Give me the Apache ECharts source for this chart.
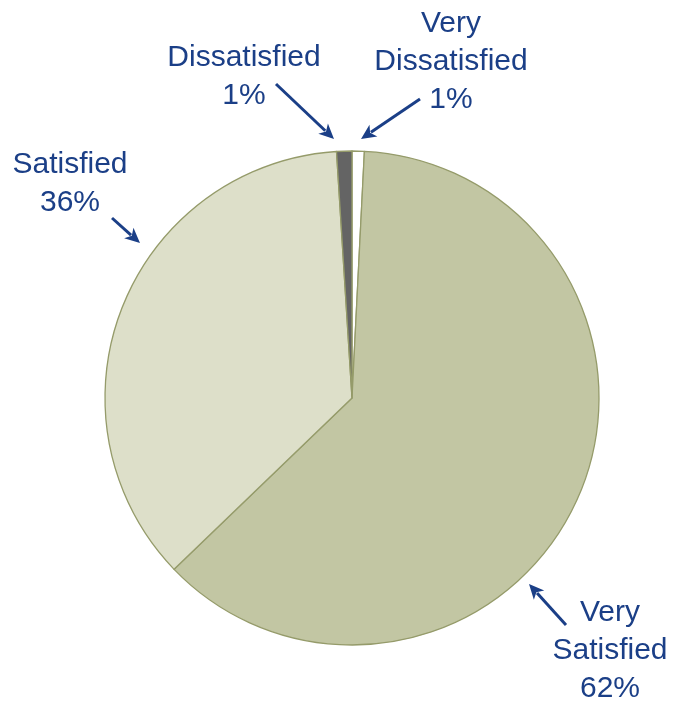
<!DOCTYPE html>
<html><head><meta charset="utf-8">
<script src="https://cdn.jsdelivr.net/npm/echarts@6/dist/echarts.min.js"></script>
<style>html,body{margin:0;padding:0;background:#fff}#c{width:684px;height:706px}</style>
</head><body><div id="c"></div>
<script>
const categories = ['Very Dissatisfied', 'Very Satisfied', 'Satisfied', 'Dissatisfied'];
const values = [0.8, 62, 36.2, 1.0];
const labelTexts = ['Very\nDissatisfied\n1%', 'Very\nSatisfied\n62%', 'Satisfied\n36%', 'Dissatisfied\n1%'];
const colors = ['#ffffff', '#c2c6a3', '#dddfc9', '#646464'];

const blue = '#1b3f87';
const font = '"Liberation Sans", Arial, sans-serif';
const chart = echarts.init(document.getElementById('c'));

function txt(t, x, y) {
  return { type: 'text', x: x, y: y, style: { text: t, fill: blue, font: '30px ' + font, align: 'center', verticalAlign: 'top', lineHeight: 38 } };
}
function arrow(x1, y1, x2, y2) {
  const a = Math.atan2(y2 - y1, x2 - x1), L = 15, W = 7;
  const bx = x2 - L * Math.cos(a), by = y2 - L * Math.sin(a);
  const px = -Math.sin(a) * W, py = Math.cos(a) * W;
  return [
    { type: 'line', shape: { x1: x1, y1: y1, x2: bx + 3 * Math.cos(a), y2: by + 3 * Math.sin(a) }, style: { stroke: blue, lineWidth: 3 } },
    { type: 'polygon', shape: { points: [[x2, y2], [bx + px, by + py], [bx + 4 * Math.cos(a), by + 4 * Math.sin(a)], [bx - px, by - py]] }, style: { fill: blue } }
  ];
}

chart.setOption({
  animation: false,
  series: [{
    type: 'pie',
    center: [352, 398],
    radius: 247,
    startAngle: 90,
    clockwise: true,
    label: { show: false },
    labelLine: { show: false },
    emphasis: { disabled: true },
    itemStyle: { borderColor: '#959b6a', borderWidth: 1.3 },
    data: categories.map((c, i) => ({ name: c, value: values[i], itemStyle: { color: colors[i] } }))
  }],
  graphic: [
    txt(labelTexts[0], 451, 5),
    txt(labelTexts[3], 244, 39),
    txt(labelTexts[2], 70, 146),
    txt(labelTexts[1], 610, 594),
    ...arrow(276, 84, 334, 139),
    ...arrow(420, 99, 361, 139),
    ...arrow(112, 218, 140, 243),
    ...arrow(566, 625, 529, 584)
  ]
});
</script></body></html>
